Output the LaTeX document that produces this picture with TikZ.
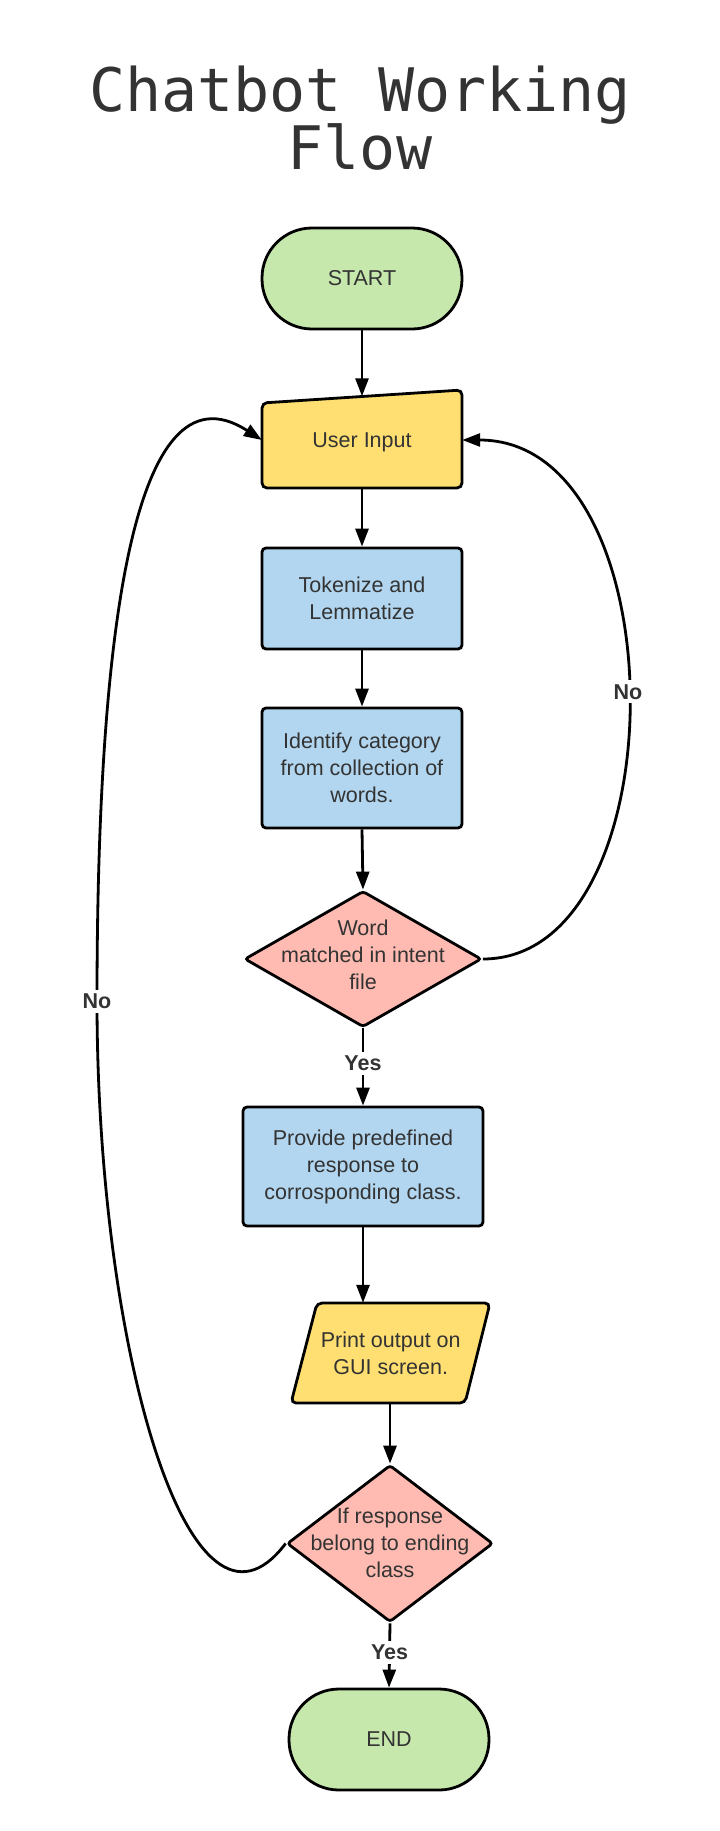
\documentclass[tikz,border=0pt]{standalone}
\usepackage{fontspec}
\setmainfont{Liberation Sans}
\newfontfamily\titlefont{DejaVu Sans Mono}
\usetikzlibrary{shapes.geometric,arrows.meta}
\definecolor{txt}{HTML}{333333}
\definecolor{cgreen}{HTML}{C7E8AC}
\definecolor{cyellow}{HTML}{FFDF71}
\definecolor{cblue}{HTML}{B2D6EF}
\definecolor{cpink}{HTML}{FFBBB1}
\begin{document}
\begin{tikzpicture}[x=1pt,y=-1pt,
  every node/.style={text=txt, font=\fontsize{21.5}{27}\selectfont},
  terminal/.style={draw=black, line width=2.8pt, fill=cgreen, rectangle, rounded corners=50pt, minimum width=200pt, minimum height=101pt, inner sep=0pt},
  procbox/.style={draw=black, line width=2.8pt, fill=cblue, rectangle, rounded corners=4pt, inner sep=0pt, align=center},
  decision/.style={draw=black, line width=2.8pt, fill=cpink, diamond, rounded corners=3pt, inner sep=0pt},
  iobody/.style={fill=cyellow, draw=black, line width=2.8pt, rounded corners=5pt},
  textonly/.style={align=center, inner sep=0pt},
  conn/.style={line width=2.8pt, -{Triangle[length=18pt,width=13pt]}},
  lbl/.style={fill=white, font=\bfseries\fontsize{21.5}{27}\selectfont, inner sep=4pt},
  titletext/.style={font=\titlefont\fontsize{60}{60}\selectfont, anchor=base},
]
\useasboundingbox[fill=white] (0,0) rectangle (720,1831);

% title
\node[titletext] (title1) at (360,111) {Chatbot Working};
\node[titletext] (title2) at (360,169) {Flow};

% START
\node[terminal] (start) at (362,278.5) {START};

% User Input (manual input shape)
\filldraw[iobody] (262,403) -- (462,390) -- (462,488) -- (262,488) -- cycle;
\node[textonly, minimum width=200pt, minimum height=96pt, text depth=0pt] (ui) at (362,440) {User Input};

% process boxes
\node[procbox, minimum width=200pt, minimum height=101pt] (tok) at (362,598.5) {Tokenize and\\Lemmatize};
\node[procbox, minimum width=200pt, minimum height=120pt] (ident) at (362,768) {Identify category\\from collection of\\words.};

% decision 1
\node[decision, minimum width=237pt, minimum height=136pt] (d1) at (363,959) {};
\node[textonly] (d1t) at (363,955) {Word\\matched in intent\\file};

% provide
\node[procbox, minimum width=240pt, minimum height=119pt] (provide) at (363,1166.5) {Provide predefined\\response to\\corrosponding class.};

% print output (parallelogram)
\filldraw[iobody] (317,1303) -- (490,1303) -- (465,1403) -- (291,1403) -- cycle;
\node[textonly, minimum width=174pt, minimum height=100pt] (print) at (390.75,1353) {Print output on\\GUI screen.};

% decision 2
\node[decision, minimum width=206pt, minimum height=157pt] (d2) at (390,1543.5) {};
\node[textonly] (d2t) at (390,1543) {If response\\belong to ending\\class};

% END
\node[terminal] (end) at (389,1739.5) {END};

% connectors
\draw[conn] (start.south) -- ([yshift=-4.5pt]ui.north);
\draw[conn] (ui.south) -- (tok.north);
\draw[conn] (tok.south) -- (ident.north);
\draw[conn] (ident.south) -- (d1.north);
\draw[conn] (d1.south) -- node[lbl, pos=0.45] (yes1) {Yes} (provide.north);
\draw[conn] (provide.south) -- (provide.south |- print.north);
\draw[conn] (d2.north |- print.south) -- (d2.north);
\draw[conn] (d2.south) -- node[lbl, pos=0.45] (yes2) {Yes} (end.north);

% No loop right
\draw[conn] (d1.east) .. controls (680,959) and (680,440) .. node[lbl, pos=0.51] (no1) {No} (ui.east);

% No loop left
\coordinate (lno) at (97,1001);
\draw[conn] (d2.west) .. controls (190,1670) and (97,1350) .. (lno) .. controls (97,650) and (130,355) .. (ui.west);
\node[lbl] (no2) at (lno) {No};
\end{tikzpicture}
\end{document}
